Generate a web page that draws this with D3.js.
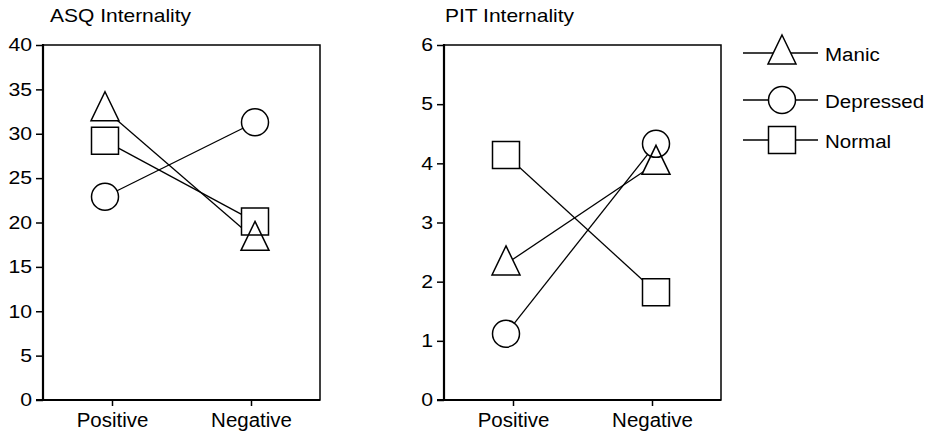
<!DOCTYPE html>
<html>
<head>
<meta charset="utf-8">
<script src="https://cdn.jsdelivr.net/npm/d3@7"></script>
<style>
  body { margin: 0; background: #fff; }
  svg { display: block; font-family: "Liberation Sans", Arial, sans-serif; }
</style>
</head>
<body>
<div id="chart"></div>
<script>
// data
var categories = ["Positive", "Negative"];
var seriesNames = ["Manic", "Depressed", "Normal"];

var asqTicks = [0, 5, 10, 15, 20, 25, 30, 35, 40];
var asqManic = [32.7, 18.1];
var asqDepressed = [22.9, 31.3];
var asqNormal = [29.2, 20.1];

var pitTicks = [0, 1, 2, 3, 4, 5, 6];
var pitManic = [2.3, 4.0];
var pitDepressed = [1.12, 4.33];
var pitNormal = [4.14, 1.82];

var svgWidth = 933;
var svgHeight = 434;

var svg = d3.select("#chart")
  .append("svg")
  .attr("width", svgWidth)
  .attr("height", svgHeight);

// marker paths
var shapes = {
  Manic: "M0,-18L14,11L-14,11Z",
  Depressed: d3.arc()({innerRadius: 0, outerRadius: 13.5, startAngle: 0, endAngle: 2 * Math.PI}),
  Normal: "M-13.5,-13.5h27v27h-27Z"
};

// white mask first so connecting lines stop at the marker edge
function drawMarkerFill(g, name, x, y) {
  g.append("path")
    .attr("d", shapes[name])
    .attr("transform", `translate(${x},${y})`)
    .attr("fill", "#fff");
}
// outlines afterwards so overlapping markers both stay visible
function drawMarkerOutline(g, name, x, y) {
  g.append("path")
    .attr("d", shapes[name])
    .attr("transform", `translate(${x},${y})`)
    .attr("fill", "none")
    .attr("stroke", "#000")
    .attr("stroke-width", 1.5);
}

function drawPanel(opts) {
  var width = 277, top = 45, bottom = 400;
  var g = svg.append("g").attr("transform", `translate(${opts.left},0)`);

  var y = d3.scaleLinear().domain(opts.domain).range([bottom, top]);
  // markers sit a bit wider apart than the tick marks
  var xMark = d3.scalePoint().domain(categories).range([62, 212]);
  var xTick = d3.scalePoint().domain(categories).range([69, 208]);

  // frame
  g.append("rect")
    .attr("x", 0).attr("y", top)
    .attr("width", width).attr("height", bottom - top)
    .attr("fill", "none").attr("stroke", "#000").attr("stroke-width", 1.5);

  // y axis
  var yAxis = g.append("g")
    .call(d3.axisLeft(y).tickValues(opts.ticks).tickSize(7).tickPadding(2.3).tickFormat(d3.format("d")));
  yAxis.select(".domain").remove();
  yAxis.selectAll("line").attr("stroke-width", 1.5);
  yAxis.selectAll("text")
    .attr("font-size", 18)
    .attr("fill", "#000")
    .attr("transform", "scale(1.18,1)");

  // x axis
  var xAxis = g.append("g")
    .attr("transform", `translate(0,${bottom})`)
    .call(d3.axisBottom(xTick).tickSize(6).tickPadding(7));
  xAxis.select(".domain").remove();
  xAxis.selectAll("line").attr("stroke-width", 1.5);
  xAxis.selectAll("text")
    .attr("font-size", 19.5)
    .attr("fill", "#000")
    .attr("transform", "scale(1.05,1)");

  // heavier left and bottom axis lines
  g.append("line").attr("x1", 0).attr("x2", 0).attr("y1", top - 1).attr("y2", bottom + 1)
    .attr("stroke", "#000").attr("stroke-width", 2.2);
  g.append("line").attr("x1", -7).attr("x2", width).attr("y1", bottom).attr("y2", bottom)
    .attr("stroke", "#000").attr("stroke-width", 2.2);

  // title
  g.append("text")
    .attr("transform", `translate(${opts.titleX},22) scale(1.2,1)`)
    .attr("font-size", 17.5)
    .text(opts.title);

  var line = d3.line()
    .x((d, i) => xMark(categories[i]))
    .y(d => y(d));

  opts.series.forEach(function(vals) {
    g.append("path")
      .attr("d", line(vals))
      .attr("fill", "none")
      .attr("stroke", "#000")
      .attr("stroke-width", 1.3);
  });

  opts.series.forEach(function(vals, s) {
    vals.forEach(function(v, i) {
      drawMarkerFill(g, seriesNames[s], xMark(categories[i]), y(v));
    });
  });
  opts.series.forEach(function(vals, s) {
    vals.forEach(function(v, i) {
      drawMarkerOutline(g, seriesNames[s], xMark(categories[i]), y(v));
    });
  });
}

drawPanel({
  left: 43,
  title: "ASQ Internality",
  titleX: 7,
  domain: [0, 40],
  ticks: asqTicks,
  series: [asqManic, asqDepressed, asqNormal]
});

drawPanel({
  left: 444,
  title: "PIT Internality",
  titleX: 1,
  domain: [0, 6],
  ticks: pitTicks,
  series: [pitManic, pitDepressed, pitNormal]
});

// legend
var legendRows = [53, 100, 140];
var legend = svg.append("g");
seriesNames.forEach(function(name, i) {
  var ly = legendRows[i];
  legend.append("line")
    .attr("x1", 743).attr("x2", 818).attr("y1", ly).attr("y2", ly)
    .attr("stroke", "#000").attr("stroke-width", 1.3);
  drawMarkerFill(legend, name, 782, ly);
  drawMarkerOutline(legend, name, 782, ly);
  legend.append("text")
    .attr("transform", `translate(825,${ly + 8}) scale(1.08,1)`)
    .attr("font-size", 19)
    .text(name);
});
</script>
</body>
</html>
